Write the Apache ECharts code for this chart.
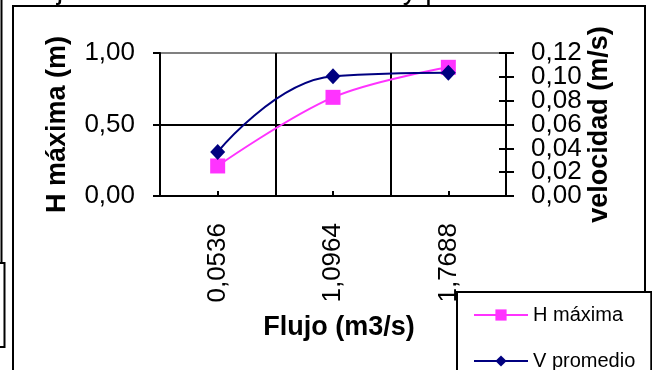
<!DOCTYPE html>
<html>
<head>
<meta charset="utf-8">
<script src="https://cdn.jsdelivr.net/npm/echarts@6/dist/echarts.min.js"></script>
<style>
html,body{margin:0;padding:0;background:#fff;}
#c{width:652px;height:370px;}
</style>
</head>
<body>
<div id="c"></div>
<script>
// ---- data ----
const categories = ['0,0536', '1,0964', '1,7688'];
const hMaxima = [0.21, 0.69, 0.90];          // H máxima (m), left axis
const vPromedio = [0.037, 0.1005, 0.1035];    // V promedio (m/s), right axis
const leftAxisRange = [0, 1, 0.5];
const rightAxisRange = [0, 0.12, 0.02];
const titleText = 'Flujo vs. Profundidad máxima y promedio';
const seriesNames = ['H máxima', 'V promedio'];
const axisNames = ['H máxima (m)', 'velocidad (m/s)', 'Flujo (m3/s)'];

const FONT = '"Liberation Sans", Arial, sans-serif';
const fmt = (v) => v.toFixed(2).replace('.', ',');
const PINK = '#FF33FF';
const NAVY = '#000080';

// plot box
const G = {left: 160, top: 53, width: 346, height: 143};
// the right labels are split over two label-only axes so none get hidden:
// even steps on the main grid, odd steps on a grid padded by one step.
const rStep = rightAxisRange[2];
const rSpan = rightAxisRange[1] - rightAxisRange[0];
const pad = G.height * rStep / rSpan;
const G2 = {left: G.left, width: G.width, top: G.top - pad, height: G.height + 2 * pad};

const labelStyle = {fontSize: 26, color: '#000', fontFamily: FONT, formatter: fmt};

const chart = echarts.init(document.getElementById('c'), null, {renderer: 'canvas'});
chart.setOption({
  animation: false,
  backgroundColor: '#fff',
  textStyle: {fontFamily: FONT},
  grid: [
    Object.assign({containLabel: false}, G),
    Object.assign({containLabel: false, show: false}, G2)
  ],
  graphic: [
    {type: 'text', left: 17, top: -23, z: 1,
     style: {text: titleText, font: '28.7px ' + FONT, fill: '#000'}},
    {type: 'rect', shape: {x: 13, y: 6, width: 632, height: 380}, z: 0,
     style: {fill: null, stroke: '#000', lineWidth: 2}},
    {type: 'polyline', shape: {points: [[1.5, 0], [1.5, 263]]},
     style: {stroke: '#000', lineWidth: 2, fill: null}},
    {type: 'polyline', shape: {points: [[0, 263], [4.5, 263], [4.5, 347], [0, 347]]},
     style: {stroke: '#000', lineWidth: 2, fill: null}}
  ],
  legend: {
    data: seriesNames,
    orient: 'vertical',
    left: 457, top: 292, height: 120,
    itemWidth: 54, itemHeight: 14, itemGap: 26,
    padding: [13, 16, 20, 16],
    backgroundColor: '#fff',
    borderColor: '#000', borderWidth: 2, borderRadius: 0,
    textStyle: {fontSize: 20, color: '#000', fontFamily: FONT},
    z: 10
  },
  xAxis: [
    {
      type: 'category', gridIndex: 0,
      data: categories,
      boundaryGap: true,
      name: axisNames[2],
      nameLocation: 'middle',
      nameGap: 118,
      nameMoveOverlap: false,
      nameTextStyle: {fontSize: 27, fontWeight: 'bold', color: '#000', fontFamily: FONT, padding: [0, 0, 0, 12]},
      axisLine: {show: true, lineStyle: {color: '#000', width: 2}},
      axisTick: {show: true, inside: true, length: 5, alignWithLabel: true, lineStyle: {color: '#000', width: 2}},
      axisLabel: {rotate: 90, margin: 27, fontSize: 26, color: '#000', fontFamily: FONT},
      splitLine: {show: true, lineStyle: {color: '#000', width: 2}}
    },
    {
      type: 'category', gridIndex: 1, data: categories, show: false
    }
  ],
  yAxis: [
    { // 0: left axis
      type: 'value', position: 'left', gridIndex: 0,
      min: leftAxisRange[0], max: leftAxisRange[1], interval: leftAxisRange[2],
      name: axisNames[0], nameLocation: 'middle', nameRotate: 90, nameGap: 89,
      nameMoveOverlap: false,
      nameTextStyle: {fontSize: 27, fontWeight: 'bold', color: '#000', fontFamily: FONT},
      axisLine: {show: true, onZero: false, lineStyle: {color: '#000', width: 2}},
      axisTick: {show: true, inside: false, length: 7, lineStyle: {color: '#000', width: 2}},
      axisLabel: Object.assign({margin: 25, showMinLabel: true, showMaxLabel: true}, labelStyle),
      splitLine: {show: true, lineStyle: {color: ['#000', '#000', '#808080'], width: 2}}
    },
    { // 1: right axis (line, outer ticks, name)
      type: 'value', position: 'right', gridIndex: 0,
      min: rightAxisRange[0], max: rightAxisRange[1], interval: rStep,
      name: axisNames[1], nameLocation: 'middle', nameRotate: 90, nameGap: 80,
      nameMoveOverlap: false,
      nameTextStyle: {fontSize: 27, fontWeight: 'bold', color: '#000', fontFamily: FONT},
      axisLine: {show: true, onZero: false, lineStyle: {color: '#000', width: 2}},
      axisTick: {show: true, inside: false, length: 8, lineStyle: {color: '#000', width: 2}},
      axisLabel: {show: false},
      splitLine: {show: false}
    },
    { // 2: right axis inner ticks
      type: 'value', position: 'right', gridIndex: 0,
      min: rightAxisRange[0], max: rightAxisRange[1], interval: rStep,
      axisLine: {show: false},
      axisTick: {show: true, inside: true, length: 7, lineStyle: {color: '#000', width: 2}},
      axisLabel: {show: false},
      splitLine: {show: false}
    },
    { // 3: right labels 0,00 0,04 0,08 0,12
      type: 'value', position: 'right', gridIndex: 0,
      min: rightAxisRange[0], max: rightAxisRange[1], interval: 2 * rStep,
      axisLine: {show: false}, axisTick: {show: false}, splitLine: {show: false},
      axisLabel: Object.assign({margin: 25, showMinLabel: true, showMaxLabel: true}, labelStyle)
    },
    { // 4: right labels 0,02 0,06 0,10
      type: 'value', position: 'right', gridIndex: 1,
      min: rightAxisRange[0] - rStep, max: rightAxisRange[1] + rStep, interval: 2 * rStep,
      axisLine: {show: false}, axisTick: {show: false}, splitLine: {show: false},
      axisLabel: Object.assign({margin: 25, showMinLabel: false, showMaxLabel: false}, labelStyle)
    }
  ],
  series: [
    {
      name: seriesNames[0], type: 'line', xAxisIndex: 0, yAxisIndex: 0,
      data: hMaxima, smooth: 0.35,
      symbol: 'rect', symbolSize: 15,
      lineStyle: {color: PINK, width: 2},
      itemStyle: {color: PINK},
      z: 3
    },
    {
      name: seriesNames[1], type: 'line', xAxisIndex: 0, yAxisIndex: 1,
      data: vPromedio, smooth: 0.45,
      symbol: 'diamond', symbolSize: [15, 16],
      lineStyle: {color: NAVY, width: 2},
      itemStyle: {color: NAVY},
      z: 4
    }
  ]
});
</script>
</body>
</html>
